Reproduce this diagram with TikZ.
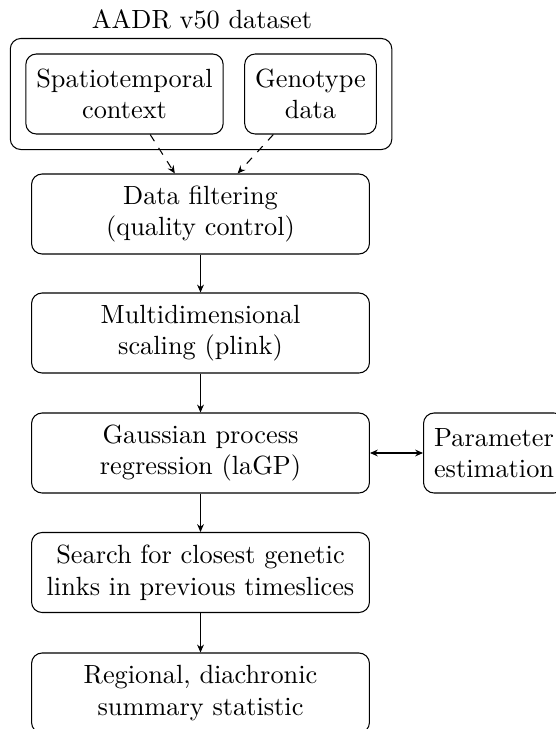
\documentclass[tikz,border=0pt]{standalone}
\usetikzlibrary{fit,arrows.meta}
\begin{document}
\begin{tikzpicture}[x=0.38pt,y=-0.38pt,
  box/.style={draw, rounded corners=4pt, align=center, minimum height=30.4pt, inner sep=4pt},
  mainbox/.style={box, minimum width=128.4pt},
  tip/.tip={Stealth[length=3pt,width=2.6pt,inset=1pt]},
  arr/.style={-tip}]
\useasboundingbox (0,0) rectangle (556,729);
\node[box, minimum width=74.9pt] (spatio) at (124.5,94) {Spatiotemporal\\context};
\node[box, minimum width=49pt] (geno) at (310.5,94) {Genotype\\data};
\node[draw, rounded corners=4pt, fit=(spatio)(geno), inner sep=5.7pt] (aadr) {};
\node[anchor=base] (title) at (202,28) {AADR v50 dataset};
\node[mainbox] (filt) at (200.5,214) {Data filtering\\(quality control)};
\node[mainbox] (mds) at (200.5,333) {Multidimensional\\scaling (plink)};
\node[mainbox] (gp) at (200.5,453) {Gaussian process\\regression (laGP)};
\node[mainbox] (search) at (200.5,572.5) {Search for closest genetic\\links in previous timeslices};
\node[mainbox] (regional) at (200.5,693) {Regional, diachronic\\summary statistic};
\node[box, anchor=west] (param) at (423,453) {Parameter\\estimation};
\draw[arr, dashed] (spatio) -- (filt);
\draw[arr, dashed] (geno) -- (filt);
\draw[arr] (filt) -- (mds);
\draw[arr] (mds) -- (gp);
\draw[arr] (gp) -- (search);
\draw[arr] (search) -- (regional);
\draw[tip-tip] (gp) -- (param);
\end{tikzpicture}
\end{document}
